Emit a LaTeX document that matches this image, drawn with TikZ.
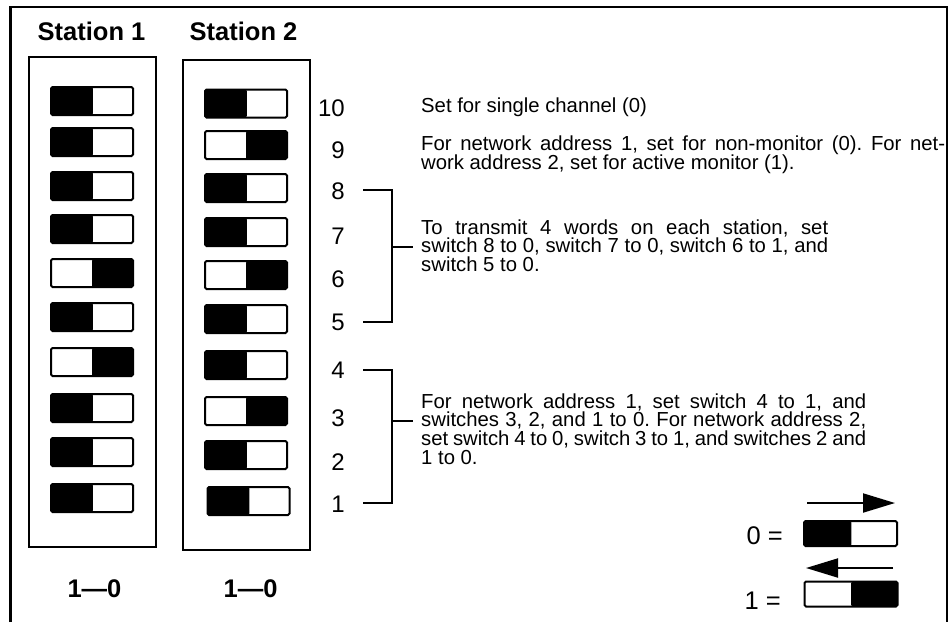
\documentclass[tikz,border=0pt]{standalone}
\usepackage{fontspec}
\setmainfont{Liberation Sans}
\usetikzlibrary{arrows.meta,calc}

\tikzset{
  swbase/.style={draw, line width=2pt, fill=white, rounded corners=1.5pt,
    minimum width=82pt, minimum height=28pt, inner sep=0pt, outer sep=0pt},
  % dark half on the left: switch set to 0
  swoff/.style={swbase, path picture={\fill[black]
    (path picture bounding box.north west) rectangle
    ($(path picture bounding box.south west)!0.51!(path picture bounding box.south east)$);}},
  % dark half on the right: switch set to 1
  swon/.style={swbase, path picture={\fill[black]
    (path picture bounding box.north east) rectangle
    ($(path picture bounding box.south west)!0.50!(path picture bounding box.south east)$);}},
  legendsw/.style={minimum width=93pt, minimum height=25pt},
  stationbox/.style={draw, line width=2.2pt, minimum width=127pt, minimum height=490pt, inner sep=0pt},
  title/.style={font=\fontsize{25.5}{30}\selectfont\bfseries, inner sep=0pt, anchor=base},
  num/.style={font=\fontsize{24}{28}\selectfont, inner sep=0pt, anchor=base east},
  legendnum/.style={num, font=\fontsize{25.5}{30}\selectfont},
  para/.style={font=\fontsize{20.3}{18.7}\selectfont\frenchspacing, inner sep=0pt, anchor=base west},
  bracket/.style={line width=2pt},
  legendarrow/.style={line width=2pt, -{Triangle[length=32pt,width=19pt]}},
}

\begin{document}
\begin{tikzpicture}[x=1pt,y=-1pt]
\useasboundingbox (0,0) rectangle (952,622);

% outer frame, open at the bottom
\draw[line width=2.3pt] (10.5,622) -- (10.5,7) -- (947,7) -- (947,622);

% station headings
\node[title] (t1) at (91.5,40) {Station 1};
\node[title] (t2) at (243.5,40) {Station 2};

% switch housings
\node[stationbox] (box1) at (92.5,302) {};
\node[stationbox] (box2) at (246.5,305) {};

% station 1 switches, top (switch 10) to bottom (switch 1)
\foreach \y/\s [count=\i] in {101/off,142/off,186/off,229/off,273/on,317/off,362/on,408/off,452/off,498/off}
  \node[sw\s] (sa\i) at (92,\y) {};

% station 2 switches
\foreach \y/\s [count=\i] in {103.5/off,145/on,188/off,232/off,275/on,319/off,365/off,411/on,455/off}
  \node[sw\s] (sb\i) at (246,\y) {};
\node[swoff] (sb10) at (248.5,501) {};

% switch numbers
\node[num] (n10) at (345,116.6) {10};
\node[num] (n9) at (345,158.6) {9};
\node[num] (n8) at (345,199.6) {8};
\node[num] (n7) at (345,244.6) {7};
\node[num] (n6) at (345,287.6) {6};
\node[num] (n5) at (345,330.6) {5};
\node[num] (n4) at (345,378.6) {4};
\node[num] (n3) at (345,426.6) {3};
\node[num] (n2) at (345,470.6) {2};
\node[num] (n1) at (345,512.6) {1};

% explanations
\node[para] (p1) at (421,112) {Set for single channel (0)};
\node[para] (p2) at (421,150) {\parbox[t]{524pt}{\makebox[524pt][s]{For network address 1, set for non-monitor (0). For net-}\\
  work address 2, set for active monitor (1).}};
\node[para] (p3) at (421,234) {\parbox[t]{407pt}{\makebox[407pt][s]{To transmit 4 words on each station, set}\\
  \makebox[407pt][s]{switch 8 to 0, switch 7 to 0, switch 6 to 1, and}\\
  switch 5 to 0.}};
\node[para] (p4) at (421,408) {\parbox[t]{445pt}{\makebox[445pt][s]{For network address 1, set switch 4 to 1, and}\\
  \makebox[445pt][s]{switches 3, 2, and 1 to 0. For network address 2,}\\
  \makebox[445pt][s]{set switch 4 to 0, switch 3 to 1, and switches 2 and}\\
  1 to 0.}};

% brackets grouping switches 8-5 and 4-1
\coordinate (b8) at (363,190);
\coordinate (b5) at (363,322);
\coordinate (spineA) at (392,0);
\coordinate (tickA) at (413,247);
\draw[bracket] (b8) -- (b8 -| spineA) -- (b5 -| spineA) -- (b5);
\draw[bracket] (tickA -| spineA) -- (tickA);

\coordinate (b4) at (363,370);
\coordinate (b1) at (363,503);
\coordinate (spineB) at (392,0);
\coordinate (tickB) at (413,421);
\draw[bracket] (b4) -- (b4 -| spineB) -- (b1 -| spineB) -- (b1);
\draw[bracket] (tickB -| spineB) -- (tickB);

% orientation captions
\node[title] (o1) at (94.5,597) {1—0};
\node[title] (o2) at (250.5,597) {1—0};

% legend
\coordinate (ra) at (807,503);
\coordinate (rb) at (895,503);
\draw[legendarrow] (ra) -- (rb);
\node[legendnum] (l0) at (783,544) {0 =};
\node[swoff, legendsw] (lsw0) at (850.5,533.5) {};

\coordinate (la) at (893,568);
\coordinate (lb) at (806,568);
\draw[legendarrow] (la) -- (lb);
\node[legendnum] (l1) at (781,609) {1 =};
\node[swon, legendsw] (lsw1) at (851,594) {};
\end{tikzpicture}
\end{document}
